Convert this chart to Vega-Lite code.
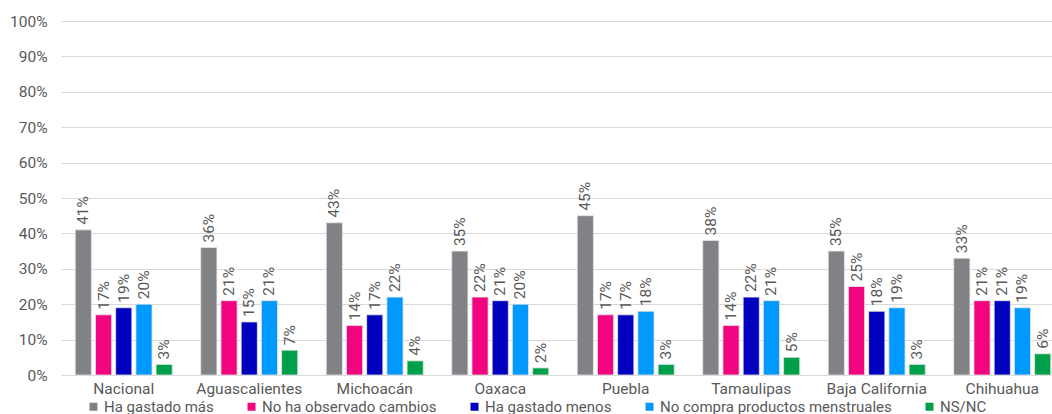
{
  "$schema": "https://vega.github.io/schema/vega-lite/v6.json",
  "autosize": "none",
  "width": 1004,
  "height": 354,
  "padding": {"left": 61, "top": 21, "right": 0, "bottom": 39},
  "background": "white",
  "config": {
    "font": "Roboto",
    "view": {"stroke": null},
    "axis": {"labelColor": "#595959", "labelFont": "Roboto", "labelFontSize": 15.5, "titleColor": "#595959"},
    "legend": {"labelColor": "#595959", "labelFont": "Roboto", "labelFontSize": 15}
  },
  "data": {
    "values": [
      {"estado": "Nacional", "respuesta": "Ha gastado más", "valor": 0.41},
      {"estado": "Nacional", "respuesta": "No ha observado cambios", "valor": 0.17},
      {"estado": "Nacional", "respuesta": "Ha gastado menos", "valor": 0.19},
      {"estado": "Nacional", "respuesta": "No compra productos menstruales", "valor": 0.20},
      {"estado": "Nacional", "respuesta": "NS/NC", "valor": 0.03},
      {"estado": "Aguascalientes", "respuesta": "Ha gastado más", "valor": 0.36},
      {"estado": "Aguascalientes", "respuesta": "No ha observado cambios", "valor": 0.21},
      {"estado": "Aguascalientes", "respuesta": "Ha gastado menos", "valor": 0.15},
      {"estado": "Aguascalientes", "respuesta": "No compra productos menstruales", "valor": 0.21},
      {"estado": "Aguascalientes", "respuesta": "NS/NC", "valor": 0.07},
      {"estado": "Michoacán", "respuesta": "Ha gastado más", "valor": 0.43},
      {"estado": "Michoacán", "respuesta": "No ha observado cambios", "valor": 0.14},
      {"estado": "Michoacán", "respuesta": "Ha gastado menos", "valor": 0.17},
      {"estado": "Michoacán", "respuesta": "No compra productos menstruales", "valor": 0.22},
      {"estado": "Michoacán", "respuesta": "NS/NC", "valor": 0.04},
      {"estado": "Oaxaca", "respuesta": "Ha gastado más", "valor": 0.35},
      {"estado": "Oaxaca", "respuesta": "No ha observado cambios", "valor": 0.22},
      {"estado": "Oaxaca", "respuesta": "Ha gastado menos", "valor": 0.21},
      {"estado": "Oaxaca", "respuesta": "No compra productos menstruales", "valor": 0.20},
      {"estado": "Oaxaca", "respuesta": "NS/NC", "valor": 0.02},
      {"estado": "Puebla", "respuesta": "Ha gastado más", "valor": 0.45},
      {"estado": "Puebla", "respuesta": "No ha observado cambios", "valor": 0.17},
      {"estado": "Puebla", "respuesta": "Ha gastado menos", "valor": 0.17},
      {"estado": "Puebla", "respuesta": "No compra productos menstruales", "valor": 0.18},
      {"estado": "Puebla", "respuesta": "NS/NC", "valor": 0.03},
      {"estado": "Tamaulipas", "respuesta": "Ha gastado más", "valor": 0.38},
      {"estado": "Tamaulipas", "respuesta": "No ha observado cambios", "valor": 0.14},
      {"estado": "Tamaulipas", "respuesta": "Ha gastado menos", "valor": 0.22},
      {"estado": "Tamaulipas", "respuesta": "No compra productos menstruales", "valor": 0.21},
      {"estado": "Tamaulipas", "respuesta": "NS/NC", "valor": 0.05},
      {"estado": "Baja California", "respuesta": "Ha gastado más", "valor": 0.35},
      {"estado": "Baja California", "respuesta": "No ha observado cambios", "valor": 0.25},
      {"estado": "Baja California", "respuesta": "Ha gastado menos", "valor": 0.18},
      {"estado": "Baja California", "respuesta": "No compra productos menstruales", "valor": 0.19},
      {"estado": "Baja California", "respuesta": "NS/NC", "valor": 0.03},
      {"estado": "Chihuahua", "respuesta": "Ha gastado más", "valor": 0.33},
      {"estado": "Chihuahua", "respuesta": "No ha observado cambios", "valor": 0.21},
      {"estado": "Chihuahua", "respuesta": "Ha gastado menos", "valor": 0.21},
      {"estado": "Chihuahua", "respuesta": "No compra productos menstruales", "valor": 0.19},
      {"estado": "Chihuahua", "respuesta": "NS/NC", "valor": 0.06}
    ]
  },
  "encoding": {
    "x": {
      "field": "estado", "type": "nominal", "sort": null,
      "scale": {"paddingInner": 0.227, "paddingOuter": 0.1135},
      "axis": {"title": null, "labelAngle": 0, "ticks": false, "domainColor": "#d9d9d9", "labelPadding": 6, "grid": false}
    },
    "xOffset": {
      "field": "respuesta", "type": "nominal",
      "sort": ["Ha gastado más", "No ha observado cambios", "Ha gastado menos", "No compra productos menstruales", "NS/NC"],
      "scale": {"paddingInner": 0.2}
    },
    "y": {
      "field": "valor", "type": "quantitative",
      "scale": {"domain": [0, 1]},
      "axis": {"title": null, "format": ".0%", "values": [0, 0.1, 0.2, 0.3, 0.4, 0.5, 0.6, 0.7, 0.8, 0.9, 1], "ticks": false, "domain": false, "gridColor": "#d9d9d9", "labelPadding": 14}
    }
  },
  "layer": [
    {
      "mark": {"type": "bar", "stroke": "#e6e6e6", "strokeWidth": 0.8},
      "encoding": {
        "color": {
          "field": "respuesta", "type": "nominal",
          "sort": ["Ha gastado más", "No ha observado cambios", "Ha gastado menos", "No compra productos menstruales", "NS/NC"],
          "scale": {
            "domain": ["Ha gastado más", "No ha observado cambios", "Ha gastado menos", "No compra productos menstruales", "NS/NC"],
            "range": ["#808285", "#F2037F", "#0000BF", "#0099FF", "#00A04A"]
          },
          "legend": {"title": null, "orient": "none", "legendX": 25, "legendY": 378, "direction": "horizontal", "symbolType": "square", "symbolSize": 64, "symbolStrokeWidth": 0, "labelOffset": 3, "columnPadding": 30, "labelLimit": 0}
        }
      }
    },
    {
      "mark": {"type": "text", "angle": 270, "align": "left", "baseline": "middle", "dx": 5, "fontSize": 15.5, "color": "#595959"},
      "encoding": {
        "text": {"field": "valor", "type": "quantitative", "format": ".0%"}
      }
    }
  ]
}
